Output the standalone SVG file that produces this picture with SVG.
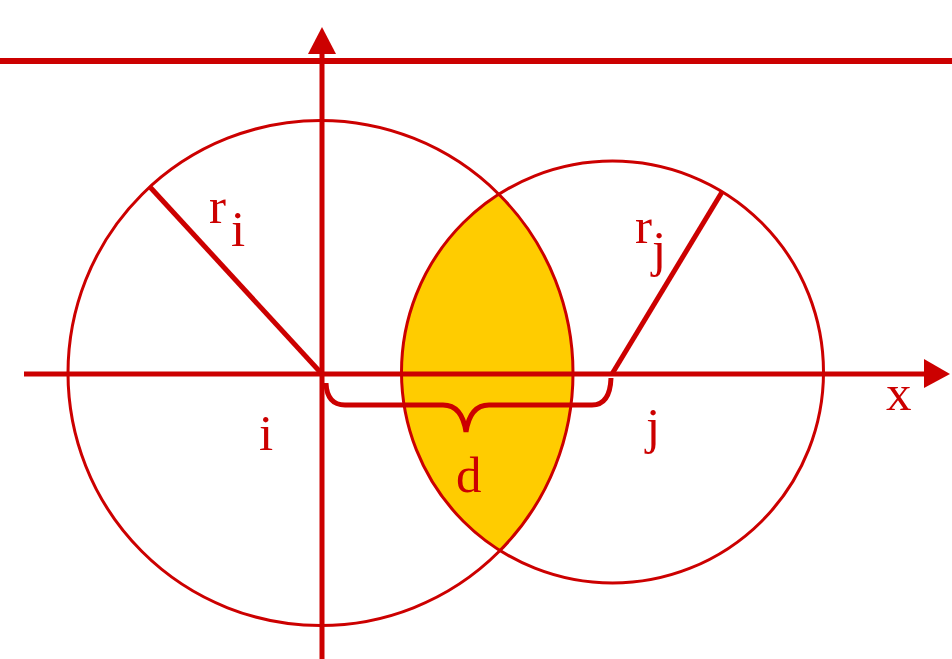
<svg xmlns="http://www.w3.org/2000/svg" width="952" height="659" viewBox="0 0 952 659">
<style>
.red{stroke:#CC0000;fill:none}
.circ{stroke:#CC0000;stroke-width:3;fill:none}
.thick{stroke:#CC0000;stroke-width:5;fill:none}
.lbl{font-family:"Liberation Serif","Times New Roman",serif;font-size:51px;fill:#CC0000}
.head{fill:#CC0000;stroke:none}
</style>
<rect width="952" height="659" fill="#FFFFFF"/>
<g id="lens">
<path d="M499.4 195 A211 211 0 0 0 499.4 551 A252.5 252.5 0 0 0 499.4 195 Z" fill="#FFCC00" stroke="none"/>
</g>
<g id="circle-i">
<circle class="circ" cx="320.5" cy="373" r="252.5"/>
<text class="lbl" x="259" y="450">i</text>
</g>
<g id="circle-j">
<circle class="circ" cx="612.5" cy="372" r="211"/>
<text class="lbl" x="646" y="443">j</text>
</g>
<g id="connectors">
<line class="red" stroke-width="6" x1="0" y1="61" x2="952" y2="61"/>
<line class="thick" x1="322" y1="659" x2="322" y2="50"/>
<polygon class="head" points="322,27 308,54 336,54"/>
<line class="thick" x1="24" y1="374" x2="926" y2="374"/>
<polygon class="head" points="950,374 924,359 924,388"/>
<line class="thick" x1="150" y1="187" x2="322" y2="374"/>
<line class="thick" x1="612" y1="374" x2="722" y2="192"/>
<path class="thick" d="M326 383 Q327 405 345 405 L443 405 Q462 405 466 432 Q470 405 489 405 L592 405 Q610 405 611 378"/>
</g>
<g id="labels">
<text class="lbl" x="209" y="223">r</text>
<text class="lbl" x="231" y="246">i</text>
<text class="lbl" x="635" y="243">r</text>
<text class="lbl" x="652" y="266">j</text>
<text class="lbl" x="456" y="492">d</text>
<text class="lbl" x="886" y="410">x</text>
</g>
</svg>
